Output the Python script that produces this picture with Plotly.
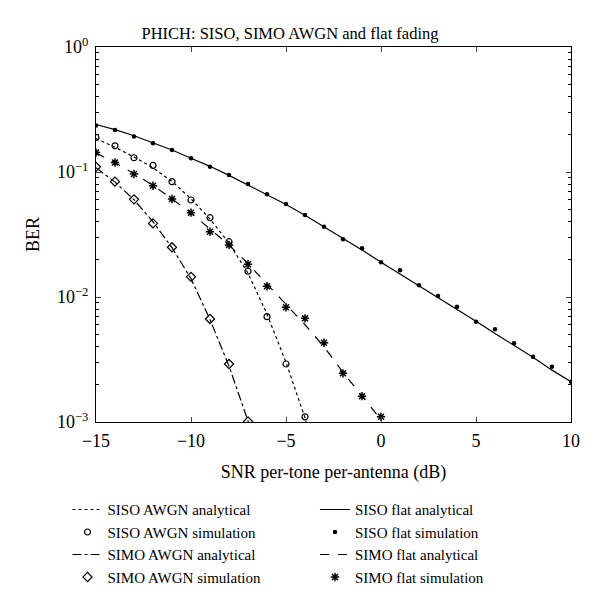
import plotly.graph_objects as go

snr = list(range(-15, 11))

# SISO flat fading
siso_flat_an = [0.240, 0.218, 0.195, 0.172, 0.150, 0.129, 0.111, 0.094, 0.079, 0.066, 0.055, 0.045,
                0.0365, 0.0295, 0.0238, 0.0190, 0.0153, 0.0122, 0.0098, 0.0079, 0.0064, 0.0051,
                0.0041, 0.0033, 0.0026, 0.0021]
siso_flat_sim = [0.235, 0.217, 0.192, 0.170, 0.150, 0.129, 0.110, 0.0946, 0.0802, 0.0663, 0.0555, 0.0453,
                 0.0365, 0.0290, 0.0245, 0.0190, 0.0164, 0.0124, 0.0102, 0.00836, 0.00634, 0.00552,
                 0.00426, 0.00333, 0.00277, 0.00210]

# SISO AWGN
snr_siso_awgn_an = list(range(-15, -2))
siso_awgn_an = [0.185, 0.158, 0.132, 0.108, 0.084, 0.061, 0.042, 0.027, 0.0155, 0.0073, 0.0030, 0.00108, 0.0003]
snr_siso_awgn_sim = list(range(-15, -3))
siso_awgn_sim = [0.189, 0.162, 0.130, 0.113, 0.0837, 0.0597, 0.0431, 0.0277, 0.0161, 0.00696, 0.00291, 0.00110]

# SIMO AWGN
snr_simo_awgn_an = list(range(-15, -5))
simo_awgn_an = [0.108, 0.083, 0.060, 0.040, 0.0248, 0.0140, 0.0066, 0.0028, 0.00102, 0.0003]
snr_simo_awgn_sim = list(range(-15, -6))
simo_awgn_sim = [0.110, 0.0837, 0.0604, 0.0388, 0.0250, 0.0145, 0.00667, 0.00291, 0.00101]

# SIMO flat fading
snr_simo_flat = list(range(-15, 1))
simo_flat_an = [0.142, 0.119, 0.097, 0.078, 0.061, 0.047, 0.035, 0.026, 0.0185, 0.0127, 0.0087, 0.0060,
                0.0040, 0.0025, 0.00162, 0.00104]
simo_flat_sim = [0.143, 0.119, 0.0964, 0.0777, 0.0608, 0.0473, 0.0333, 0.0261, 0.0183, 0.0122, 0.00827,
                 0.00675, 0.00431, 0.00245, 0.00161, 0.00110]

x_tickvals = [-15, -10, -5, 0, 5, 10]
x_ticktext = ["\u221215", "\u221210", "\u22125", "0", "5", "10"]
y_tickvals = [1e-3, 1e-2, 1e-1, 1]
y_ticktext = ["10<sup>\u22123</sup>", "10<sup>\u22122</sup>", "10<sup>\u22121</sup>", "10<sup>0</sup>"]

FONT = "Liberation Serif"
fig = go.Figure()

def line(x, y, name, dash, legend):
    fig.add_trace(go.Scatter(x=x, y=y, name=name, mode="lines", legend=legend,
                             line=dict(color="black", width=1.2, dash=dash)))

def marks(x, y, name, symbol, size, legend, lw=1.2):
    fig.add_trace(go.Scatter(x=x, y=y, name=name, mode="markers", legend=legend,
                             marker=dict(symbol=symbol, size=size, color="black",
                                         line=dict(color="black", width=lw))))

line(snr_siso_awgn_an, siso_awgn_an, "SISO AWGN analytical", "dot", "legend")
marks(snr_siso_awgn_sim, siso_awgn_sim, "SISO AWGN simulation", "circle-open", 6, "legend")
line(snr_simo_awgn_an, simo_awgn_an, "SIMO AWGN analytical", "dashdot", "legend")
marks(snr_simo_awgn_sim, simo_awgn_sim, "SIMO AWGN simulation", "diamond-open", 7, "legend")
line(snr, siso_flat_an, "SISO flat analytical", "solid", "legend2")
marks(snr, siso_flat_sim, "SISO flat simulation", "circle", 4.5, "legend2", 0)
line(snr_simo_flat, simo_flat_an, "SIMO flat analytical", "dash", "legend2")
marks(snr_simo_flat, simo_flat_sim, "SIMO flat simulation", "asterisk-open", 7, "legend2", 1.5)

minor_vals = [m * 10 ** e for e in (-3, -2, -1) for m in range(2, 10)]

leg_common = dict(orientation="v", yanchor="top", y=-0.19, xanchor="left",
                  font=dict(family=FONT, size=15), tracegroupgap=0, itemwidth=30,
                  bgcolor="rgba(0,0,0,0)", traceorder="normal")

fig.update_layout(
    width=600, height=613,
    margin=dict(l=96, r=29, t=47, b=191, autoexpand=False),
    paper_bgcolor="white", plot_bgcolor="white",
    font=dict(family=FONT, size=16, color="black"),
    title=dict(text="PHICH: SISO, SIMO AWGN and flat fading", x=290 / 600, xanchor="center",
               y=1 - 33 / 613, yanchor="middle", font=dict(family=FONT, size=16.5)),
    showlegend=True,
    legend=dict(x=-0.06, **leg_common),
    legend2=dict(x=0.461, **leg_common),
)
fig.update_xaxes(range=[-15, 10], tickvals=x_tickvals, ticktext=x_ticktext, ticks="inside",
                 ticklen=5, showline=True, linecolor="black", linewidth=1, mirror="ticks",
                 showgrid=False, zeroline=False, ticklabelstandoff=2,
                 title=dict(text="SNR per-tone per-antenna (dB)", standoff=15, font=dict(size=18)),
                 tickfont=dict(family=FONT, size=18))
fig.update_yaxes(type="log", range=[-3, 0], tickvals=y_tickvals, ticktext=y_ticktext, ticks="inside",
                 ticklen=5, showline=True, linecolor="black", linewidth=1, mirror="ticks",
                 showgrid=False, zeroline=False, ticklabelstandoff=3,
                 minor=dict(tickvals=minor_vals, ticks="inside", ticklen=3, tickcolor="black", showgrid=False),
                 title=dict(text="BER", standoff=12, font=dict(size=18)),
                 tickfont=dict(family=FONT, size=18))

fig.write_html("out.html", config={"displayModeBar": False},
               post_script="document.body.style.margin='0';")
